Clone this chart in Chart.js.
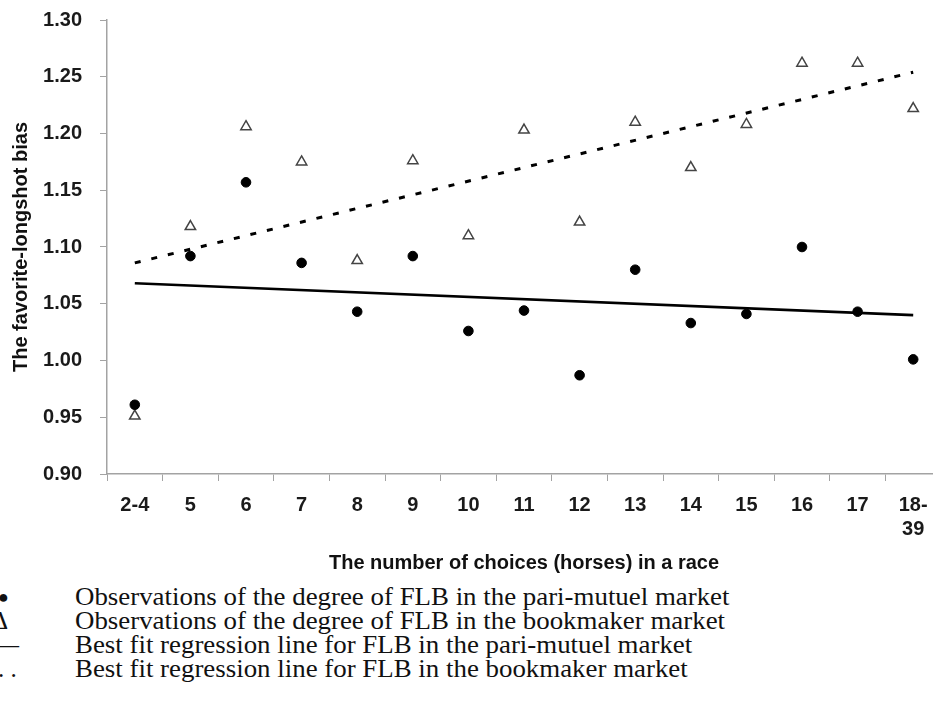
<!DOCTYPE html>
<html>
<head>
<meta charset="utf-8">
<script src="https://cdn.jsdelivr.net/npm/chart.js@4/dist/chart.umd.min.js"></script>
<style>
  html, body { margin: 0; padding: 0; background: #fff; overflow: hidden; }
  #wrap { position: relative; width: 933px; height: 717px; overflow: hidden; }
  #grafico { position: absolute; left: 0; top: -10px; }
  .legenda { position: absolute; left: 0; top: 585px; font-family: "Liberation Serif", "Times New Roman", serif;
             font-size: 25px; line-height: 24px; color: #111; }
  .linha { position: relative; height: 24px; white-space: nowrap; }
  .simbolo { position: absolute; top: 0; }
  .texto { position: absolute; left: 75px; top: 0; transform: scaleX(1.075); transform-origin: left center; }
</style>
</head>
<body>
<div id="wrap">
  <canvas id="grafico" width="950" height="585"></canvas>
  <div class="legenda">
    <div class="linha"><span class="simbolo" style="left:-2px; font-size:18px">&#9679;</span><span class="texto">Observations of the degree of FLB in the pari-mutuel market</span></div>
    <div class="linha"><span class="simbolo" style="left:-8px">&#916;</span><span class="texto">Observations of the degree of FLB in the bookmaker market</span></div>
    <div class="linha"><span class="simbolo" style="left:-6px">&#8212;</span><span class="texto">Best fit regression line for FLB in the pari-mutuel market</span></div>
    <div class="linha"><span class="simbolo" style="left:-2px">. .</span><span class="texto">Best fit regression line for FLB in the bookmaker market</span></div>
  </div>
</div>
<script>
var categorias = ["2-4", "5", "6", "7", "8", "9", "10", "11", "12", "13", "14", "15", "16", "17", ["18-", "39"]];

// pontos observados
var pariMutuel = [0.961, 1.092, 1.157, 1.086, 1.043, 1.092, 1.026, 1.044, 0.987, 1.080, 1.033, 1.041, 1.100, 1.043, 1.001];
var bookmaker = [0.951, 1.118, 1.206, 1.175, 1.088, 1.176, 1.110, 1.203, 1.122, 1.210, 1.170, 1.208, 1.262, 1.262, 1.222];

// retas de regressao (so as pontas)
var ajustePari = [1.068, null, null, null, null, null, null, null, null, null, null, null, null, null, 1.040];
var ajusteBook = [1.086, null, null, null, null, null, null, null, null, null, null, null, null, null, 1.254];

var yMin = 0.90;
var yMax = 1.30;
var yPasso = 0.05;

var corEixo = '#a3a3a3';
var fonteTick = { family: "'Liberation Sans', Arial, sans-serif", size: 20, weight: 'bold' };
var fonteTitulo = { family: "'Liberation Sans', Arial, sans-serif", size: 20, weight: 'bold' };

var context = document.getElementById("grafico");

var chartGraph = new Chart(context, {
    type: 'line',
    data: {
        labels: categorias,
        datasets: [{
            label: "pari-mutuel",
            data: pariMutuel,
            showLine: false,
            pointStyle: 'circle',
            pointRadius: 4.8,
            pointBackgroundColor: '#000',
            pointBorderColor: '#000',
            pointBorderWidth: 1
        }, {
            label: "bookmaker",
            data: bookmaker,
            showLine: false,
            pointStyle: 'triangle',
            pointRadius: 6,
            pointBackgroundColor: '#fff',
            pointBorderColor: '#444',
            pointBorderWidth: 1.5
        }, {
            label: "fit pari-mutuel",
            data: ajustePari,
            spanGaps: true,
            borderColor: '#000',
            borderWidth: 2.6,
            pointRadius: 0,
            tension: 0
        }, {
            label: "fit bookmaker",
            data: ajusteBook,
            spanGaps: true,
            borderColor: '#000',
            borderWidth: 3,
            borderDash: [6, 11],
            pointRadius: 0,
            tension: 0
        }]
    },
    options: {
        responsive: false,
        animation: false,
        devicePixelRatio: 1,
        layout: {
            padding: { left: 0, right: 9, top: 7, bottom: 0 }
        },
        plugins: {
            legend: { display: false },
            tooltip: { enabled: false }
        },
        scales: {
            x: {
                offset: true,
                grid: {
                    offset: true,
                    drawOnChartArea: false,
                    drawTicks: true,
                    tickLength: 7,
                    color: corEixo
                },
                border: { color: corEixo, width: 1.5 },
                ticks: {
                    color: '#1a1a1a',
                    font: fonteTick,
                    padding: 12,
                    maxRotation: 0,
                    autoSkip: false
                },
                title: {
                    display: true,
                    text: 'The number of choices (horses) in a race',
                    color: '#111',
                    font: fonteTitulo,
                    padding: 0
                },
                afterFit: function(scale) {
                    scale.height = 101;
                }
            },
            y: {
                min: yMin,
                max: yMax,
                grid: {
                    drawOnChartArea: false,
                    drawTicks: true,
                    tickLength: 7,
                    color: corEixo
                },
                border: { color: corEixo, width: 1.5 },
                ticks: {
                    stepSize: yPasso,
                    color: '#1a1a1a',
                    font: fonteTick,
                    padding: 18,
                    callback: function(v) { return v.toFixed(2); }
                },
                title: {
                    display: true,
                    text: 'The favorite-longshot bias',
                    color: '#111',
                    font: fonteTitulo,
                    padding: { top: 9, bottom: 0 }
                },
                afterFit: function(scale) {
                    scale.width = 107;
                }
            }
        }
    }
});
</script>
</body>
</html>
